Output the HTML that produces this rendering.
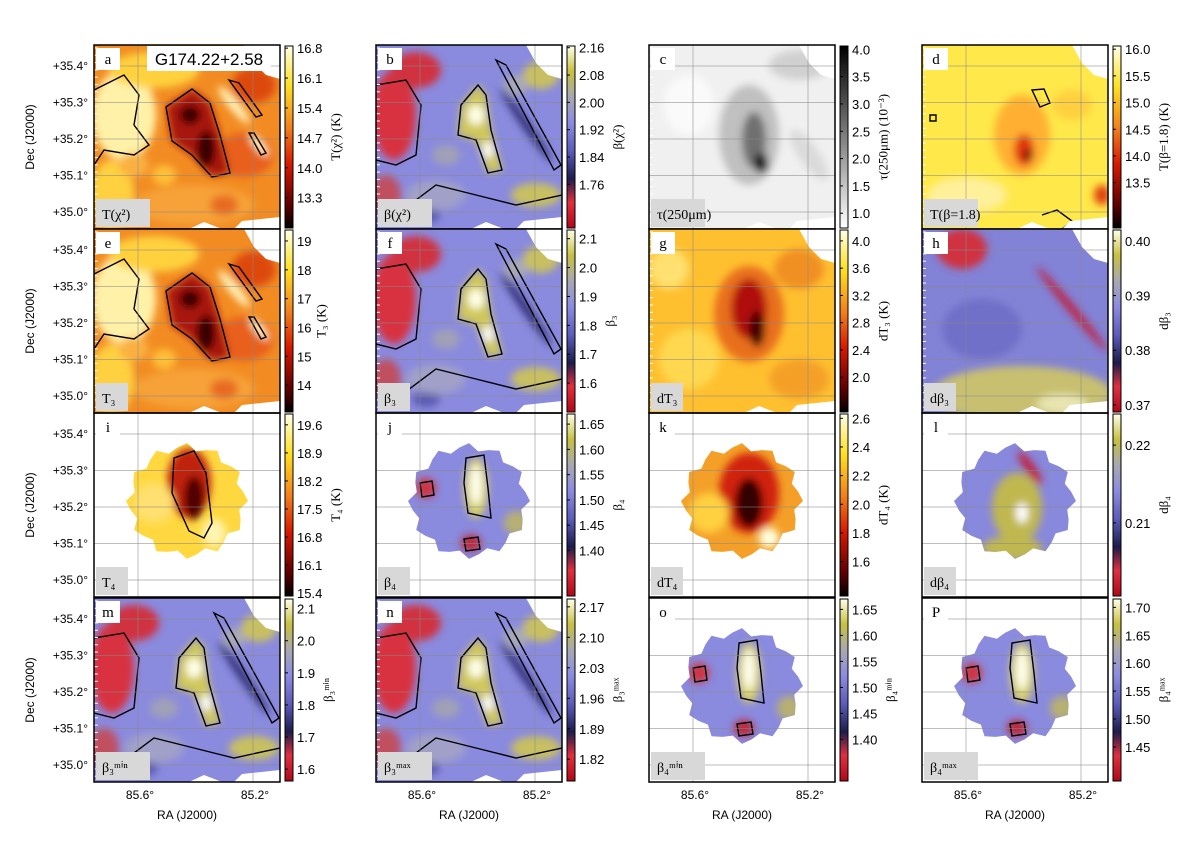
<!DOCTYPE html>
<html><head><meta charset="utf-8"><style>
html,body{margin:0;padding:0;background:#fff;}
svg{display:block;font-family:"Liberation Sans",sans-serif;}
.serif{font-family:"Liberation Serif",serif;}
</style></head><body>
<svg id="fig" width="1200" height="842" viewBox="0 0 1200 842" xmlns="http://www.w3.org/2000/svg">
<defs>
<filter id="blur" x="-20%" y="-20%" width="140%" height="140%"><feGaussianBlur stdDeviation="4"/></filter>
<linearGradient id="cm-hot" x1="0" y1="1" x2="0" y2="0">
<stop offset="0" stop-color="#000000"/><stop offset="0.12" stop-color="#5a0000"/><stop offset="0.35" stop-color="#d81800"/><stop offset="0.55" stop-color="#f2801c"/><stop offset="0.78" stop-color="#ffe020"/><stop offset="1" stop-color="#ffffe8"/></linearGradient>
<linearGradient id="cm-beta" x1="0" y1="1" x2="0" y2="0">
<stop offset="0" stop-color="#b00818"/><stop offset="0.14" stop-color="#e03040"/><stop offset="0.27" stop-color="#1c1c4c"/><stop offset="0.42" stop-color="#5a5ab8"/><stop offset="0.58" stop-color="#8c8ce2"/><stop offset="0.72" stop-color="#a8a8b0"/><stop offset="0.86" stop-color="#c8c040"/><stop offset="1" stop-color="#ffffe8"/></linearGradient>
<linearGradient id="cm-gray" x1="0" y1="1" x2="0" y2="0">
<stop offset="0" stop-color="#ffffff"/><stop offset="1" stop-color="#000000"/></linearGradient>
</defs>
<text transform="translate(34,137) rotate(-90)" text-anchor="middle" font-size="12">Dec (J2000)</text>
<text transform="translate(34,321) rotate(-90)" text-anchor="middle" font-size="12">Dec (J2000)</text>
<text transform="translate(34,505) rotate(-90)" text-anchor="middle" font-size="12">Dec (J2000)</text>
<text transform="translate(34,690) rotate(-90)" text-anchor="middle" font-size="12">Dec (J2000)</text>
</svg>
<script>
// ---- colorbar data ----
const cbTicksA=[13.3,14.0,14.7,15.4,16.1,16.8], cbRangeA=[12.59,16.85];
const cbTicksB=[1.76,1.84,1.92,2.00,2.08,2.16], cbRangeB=[1.632,2.165];
const cbTicksC=[1.0,1.5,2.0,2.5,3.0,3.5,4.0], cbRangeC=[0.73,4.06];
const cbTicksD=[13.5,14.0,14.5,15.0,15.5,16.0], cbRangeD=[12.65,16.06];
const cbTicksE=[14,15,16,17,18,19], cbRangeE=[13.07,19.38];
const cbTicksF=[1.6,1.7,1.8,1.9,2.0,2.1], cbRangeF=[1.50,2.13];
const cbTicksG=[2.0,2.4,2.8,3.2,3.6,4.0], cbRangeG=[1.49,4.16];
const cbTicksH=[0.37,0.38,0.39,0.40], cbRangeH=[0.3687,0.402];
const cbTicksI=[15.4,16.1,16.8,17.5,18.2,18.9,19.6], cbRangeI=[15.33,19.87];
const cbTicksJ=[1.40,1.45,1.50,1.55,1.60,1.65], cbRangeJ=[1.31,1.67];
const cbTicksK=[1.6,1.8,2.0,2.2,2.4,2.6], cbRangeK=[1.36,2.63];
const cbTicksL=[0.21,0.22], cbRangeL=[0.2006,0.224];
const cbTicksM=[1.6,1.7,1.8,1.9,2.0,2.1], cbRangeM=[1.563,2.13];
const cbTicksN=[1.82,1.89,1.96,2.03,2.10,2.17], cbRangeN=[1.77,2.188];
const cbTicksO=[1.40,1.45,1.50,1.55,1.60,1.65], cbRangeO=[1.32,1.67];
const cbTicksP=[1.45,1.50,1.55,1.60,1.65,1.70], cbRangeP=[1.389,1.715];
const decTicks=["+35.4°","+35.3°","+35.2°","+35.1°","+35.0°"];
const raTicks=["85.6°","85.2°"];

const NS="http://www.w3.org/2000/svg";
const fig=document.getElementById('fig');
const colX=[94,376,649,922], rowY=[45,229,413,598], PW=186, PH=184;
function el(tag,parent){const e=document.createElementNS(NS,tag);parent.appendChild(e);return e;}

const panels=[
 {id:'a',c:0,r:0,cm:'hot',ticks:cbTicksA,range:cbRangeA,lab:'T(χ²)',cb:'T(χ²) (K)',fmt:1,kind:'T',size:'L'},
 {id:'b',c:1,r:0,cm:'beta',ticks:cbTicksB,range:cbRangeB,lab:'β(χ²)',cb:'β(χ²)',fmt:2,kind:'B',size:'L'},
 {id:'c',c:2,r:0,cm:'gray',ticks:cbTicksC,range:cbRangeC,lab:'τ(250μm)',cb:'τ(250μm) (10⁻³)',fmt:1,kind:'G',size:'L'},
 {id:'d',c:3,r:0,cm:'hot',ticks:cbTicksD,range:cbRangeD,lab:'T(β=1.8)',cb:'T(β=1.8) (K)',fmt:1,kind:'D',size:'L'},
 {id:'e',c:0,r:1,cm:'hot',ticks:cbTicksE,range:cbRangeE,lab:'T₃',cb:'T₃ (K)',fmt:0,kind:'T',size:'L'},
 {id:'f',c:1,r:1,cm:'beta',ticks:cbTicksF,range:cbRangeF,lab:'β₃',cb:'β₃',fmt:1,kind:'B',size:'L'},
 {id:'g',c:2,r:1,cm:'hot',ticks:cbTicksG,range:cbRangeG,lab:'dT₃',cb:'dT₃ (K)',fmt:1,kind:'DT',size:'L'},
 {id:'h',c:3,r:1,cm:'beta',ticks:cbTicksH,range:cbRangeH,lab:'dβ₃',cb:'dβ₃',fmt:2,kind:'H',size:'L'},
 {id:'i',c:0,r:2,cm:'hot',ticks:cbTicksI,range:cbRangeI,lab:'T₄',cb:'T₄ (K)',fmt:1,kind:'ST',size:'S'},
 {id:'j',c:1,r:2,cm:'beta',ticks:cbTicksJ,range:cbRangeJ,lab:'β₄',cb:'β₄',fmt:2,kind:'SB',size:'S'},
 {id:'k',c:2,r:2,cm:'hot',ticks:cbTicksK,range:cbRangeK,lab:'dT₄',cb:'dT₄ (K)',fmt:1,kind:'SK',size:'S'},
 {id:'l',c:3,r:2,cm:'beta',ticks:cbTicksL,range:cbRangeL,lab:'dβ₄',cb:'dβ₄',fmt:2,kind:'SL',size:'S'},
 {id:'m',c:0,r:3,cm:'beta',ticks:cbTicksM,range:cbRangeM,lab:'β₃ᵐⁱⁿ',cb:'β₃ᵐⁱⁿ',fmt:1,kind:'B',size:'L'},
 {id:'n',c:1,r:3,cm:'beta',ticks:cbTicksN,range:cbRangeN,lab:'β₃ᵐᵃˣ',cb:'β₃ᵐᵃˣ',fmt:2,kind:'B',size:'L'},
 {id:'o',c:2,r:3,cm:'beta',ticks:cbTicksO,range:cbRangeO,lab:'β₄ᵐⁱⁿ',cb:'β₄ᵐⁱⁿ',fmt:2,kind:'SB',size:'S'},
 {id:'P',c:3,r:3,cm:'beta',ticks:cbTicksP,range:cbRangeP,lab:'β₄ᵐᵃˣ',cb:'β₄ᵐᵃˣ',fmt:2,kind:'SB',size:'S'}
];

const kinds={
 T:{base:'#f28c22',blobs:[['e',30,70,32,45,'#fff2a8'],['e',60,25,45,18,'#ffd23c'],['e',18,150,22,35,'#ffd040'],['e',150,110,30,22,'#e8601a'],['e',160,40,22,18,'#dd4a10'],['e',100,160,60,20,'#f6a238'],['e',40,120,15,12,'#f9b040'],['e',130,160,14,10,'#e86a20'],['e',70,130,12,10,'#ffc038'],['p','72,62 98,44 116,58 126,90 136,128 118,132 98,110 78,96','#a81410'],['e',96,70,10,9,'#300000'],['e',112,104,9,18,'#300000'],['e',140,60,5,24,'#fff6c0',-40],['e',165,100,4,14,'#fff6c0',-40]],
   cont:['M72,62 L98,44 L116,58 L126,90 L136,128 L118,132 L98,110 L78,96 Z','M135,35 L145,38 L168,70 L162,72 Z','M155,88 L160,88 L172,108 L167,110 Z','M0,45 L10,40 L30,30 L45,50 L40,80 L55,100 L40,110 L10,105 L0,120']},
 B:{base:'#8a8ade',blobs:[['e',18,70,22,45,'#d83040'],['e',40,25,25,18,'#d03040'],['e',10,150,15,20,'#c05060'],['e',70,110,14,10,'#a0a0b8'],['e',140,40,12,10,'#a8a8b8'],['e',50,170,14,8,'#5a5ab0'],['p','85,60 102,40 110,50 115,85 126,125 112,128 100,95 82,90','#d0c858'],['e',100,70,8,10,'#ffffe8'],['e',112,105,5,8,'#ffffff'],['e',150,80,4,45,'#2a2a70',-35],['e',160,150,25,12,'#c8c060'],['e',60,150,30,15,'#a0a0c8'],['e',165,30,18,14,'#c8c060']],
   cont:['M85,60 L102,40 L110,50 L115,85 L126,125 L112,128 L100,95 L82,90 Z','M120,15 L130,20 L185,120 L178,125 Z','M0,40 L30,35 L45,60 L40,110 L20,120 L0,115','M20,170 L60,140 L100,150 L140,160 L186,150']},
 G:{base:'#f0f0f0',blobs:[['e',100,90,30,50,'#c0c0c0'],['e',105,95,12,28,'#707070'],['e',112,118,7,10,'#101010'],['e',150,20,30,15,'#d0d0d0'],['e',40,60,25,30,'#fafafa'],['e',160,110,10,30,'#dadada',-35]],cont:[]},
 D:{base:'#ffe84a',blobs:[['e',100,90,28,40,'#ffb030'],['e',102,105,10,16,'#e03810'],['e',106,110,4,6,'#500000'],['e',45,150,40,18,'#fff09a'],['e',150,60,20,15,'#ffd040'],['e',180,150,8,10,'#e04010']],
   cont:['M110,45 L122,44 L128,58 L118,62 Z','M8,70 L14,70 L14,76 L8,76 Z','M120,170 L135,165 L150,176 L140,184']},
 DT:{base:'#ffc030',blobs:[['e',100,85,35,48,'#e8701a'],['e',100,80,18,30,'#b01010'],['e',108,100,8,18,'#400000'],['e',40,130,30,30,'#ffd850'],['e',150,40,25,20,'#f09020'],['e',20,40,20,20,'#ffe070'],['e',150,150,30,20,'#f4a028']],cont:[]},
 H:{base:'#8282d6',blobs:[['e',100,165,90,28,'#c8c070'],['e',40,20,25,20,'#d03040'],['e',150,80,4,55,'#c02040',-40],['e',60,100,40,30,'#7070c8'],['e',140,175,25,10,'#e8e4b0']],cont:[]},
 ST:{base:'#ffd840',blobs:[['e',95,70,22,35,'#c02010'],['e',100,85,10,22,'#500000'],['e',60,90,20,20,'#ffe070'],['e',120,120,12,14,'#fff4b0']],cont:['M80,45 L100,38 L112,60 L118,110 L110,125 L95,118 L78,80 Z']},
 SB:{base:'#8a8ade',blobs:[['e',100,75,12,30,'#d8d060'],['e',100,72,6,20,'#fffff0'],['e',50,75,10,10,'#d03040'],['e',95,130,10,8,'#c02030'],['e',140,110,12,12,'#b8b070']],cont:['M90,45 L108,42 L112,75 L115,105 L92,100 L88,70 Z','M44,70 L56,68 L58,82 L46,84 Z','M88,126 L102,124 L104,136 L90,138 Z']},
 SK:{base:'#f4a028',blobs:[['e',100,80,30,40,'#d02010'],['e',100,90,14,25,'#300000'],['e',120,125,10,10,'#ffffe0'],['e',60,100,20,20,'#ffd040']],cont:[]},
 SL:{base:'#8888dc',blobs:[['e',95,95,25,35,'#c0b850'],['e',100,100,6,10,'#ffffff'],['e',108,55,5,20,'#c02040',-35],['e',90,135,30,12,'#c0b850']],cont:[]}
};

function footprint(size){
 if(size==='L') return null;
 const pts=[];const n=36;
 for(let k=0;k<n;k++){const a=k/n*2*Math.PI;const rr=56+((k%3===0)?5:(k%3===1?-3:1));pts.push((93+rr*Math.cos(a)).toFixed(1)+','+(88+rr*0.95*Math.sin(a)).toFixed(1));}
 return pts.join(' ');
}

panels.forEach(p=>{
 const x0=colX[p.c], y0=rowY[p.r];
 const g=el('g',fig);
 
 
 g.setAttribute('transform','translate('+x0+','+y0+')');
 const cp=el('clipPath',g); cp.setAttribute('id','clip-'+p.id);
 const cr=el('rect',cp); cr.setAttribute('width',PW); cr.setAttribute('height',PH);
 const K=kinds[p.kind];
 const mapG=el('g',g); mapG.setAttribute('clip-path','url(#clip-'+p.id+')');
 
 
 const fp=footprint(p.size);
 let inner=mapG;
 if(fp){
  const cp2=el('clipPath',g); cp2.setAttribute('id','fp-'+p.id);
  const pl=el('polygon',cp2); pl.setAttribute('points',fp);
  inner=el('g',mapG); inner.setAttribute('clip-path','url(#fp-'+p.id+')');
 }
 const base=el('rect',inner); base.setAttribute('width',PW); base.setAttribute('height',PH); base.setAttribute('fill',K.base);
 
 
 const bl=el('g',inner); bl.setAttribute('filter','url(#blur)');
 K.blobs.forEach(b=>{
  let s;
  if(b[0]==='e'){s=el('ellipse',bl);s.setAttribute('cx',b[1]);s.setAttribute('cy',b[2]);s.setAttribute('rx',b[3]);s.setAttribute('ry',b[4]);s.setAttribute('fill',b[5]);if(b[6])s.setAttribute('transform','rotate('+b[6]+' '+b[1]+' '+b[2]+')');}
  else {s=el('polygon',bl);s.setAttribute('points',b[1]);s.setAttribute('fill',b[2]);}
  
  
 });
 K.cont.forEach(d=>{const c=el('path',inner);c.setAttribute('d',d);c.setAttribute('fill','none');c.setAttribute('stroke','#000');c.setAttribute('stroke-width','1.4');
  
  });
 if(p.size==='L'){
  ['150,0 186,0 186,34 172,30 160,18','140,184 148,176 186,172 186,184','95,184 110,177 128,184'].forEach(pt=>{
   const m=el('polygon',mapG);m.setAttribute('points',pt);m.setAttribute('fill','#fff');
   
   });
 }
 for(let k=0;k<5;k++){const ly=21+k*36.5;const l=el('line',g);l.setAttribute('x1',0);l.setAttribute('x2',PW);l.setAttribute('y1',ly);l.setAttribute('y2',ly);l.setAttribute('stroke','#888');l.setAttribute('stroke-opacity','0.55');
  
  }
 [44,159].forEach(lx=>{const l=el('line',g);l.setAttribute('x1',lx);l.setAttribute('x2',lx);l.setAttribute('y1',0);l.setAttribute('y2',PH);l.setAttribute('stroke','#888');l.setAttribute('stroke-opacity','0.55');
  
  });
 for(let k=0;k<25;k++){const ty=3+k*7.3;const t=el('line',g);t.setAttribute('x1',0);t.setAttribute('x2',4);t.setAttribute('y1',ty);t.setAttribute('y2',ty);t.setAttribute('stroke','#fff');
  
  }
 const fr=el('rect',g);fr.setAttribute('width',PW);fr.setAttribute('height',PH);fr.setAttribute('fill','none');fr.setAttribute('stroke','#000');fr.setAttribute('stroke-width','1.5');
 
 
 const lb=el('rect',g);lb.setAttribute('x',2);lb.setAttribute('y',3);lb.setAttribute('width',24);lb.setAttribute('height',22);lb.setAttribute('fill','#fff');
 
 
 const lt=el('text',g);lt.setAttribute('x',14);lt.setAttribute('y',19);lt.setAttribute('text-anchor','middle');lt.setAttribute('font-size','15');lt.setAttribute('class','serif');lt.textContent=p.id;
 
 
 const gb=el('rect',g);gb.setAttribute('x',2);gb.setAttribute('y',PH-30);gb.setAttribute('width',p.lab.length>4?54:32);gb.setAttribute('height',28);gb.setAttribute('fill','#d8d8d8');
 
 
 const gt=el('text',g);gt.setAttribute('x',8);gt.setAttribute('y',PH-10);gt.setAttribute('font-size','14');gt.setAttribute('class','serif');gt.textContent=p.lab;
 
 
 const cb=el('g',fig);
 
 
 const cx=x0+PW+5;
 const cbr=el('rect',cb);cbr.setAttribute('x',cx);cbr.setAttribute('y',y0+1);cbr.setAttribute('width',8);cbr.setAttribute('height',PH-2);cbr.setAttribute('fill','url(#cm-'+p.cm+')');cbr.setAttribute('stroke','#000');
 
 
 const yv=v=>y0+1+(PH-2)*(p.range[1]-v)/(p.range[1]-p.range[0]);
 let maxW=0;
 p.ticks.forEach(v=>{
  const ty=yv(v);
  const tk=el('line',cb);tk.setAttribute('x1',cx);tk.setAttribute('x2',cx+3);tk.setAttribute('y1',ty);tk.setAttribute('y2',ty);tk.setAttribute('stroke','#000');
  
  
  const s=v.toFixed(p.fmt);
  maxW=Math.max(maxW,s.length*7.2);
  const tt=el('text',cb);tt.setAttribute('x',cx+12);tt.setAttribute('y',ty+5);tt.setAttribute('font-size','13');tt.textContent=s;
  
  
 });
 const ct=el('text',cb);ct.setAttribute('transform','translate('+(cx+12+maxW+14)+','+(y0+PH/2)+') rotate(-90)');ct.setAttribute('text-anchor','middle');ct.setAttribute('font-size','13');ct.setAttribute('class','serif');ct.textContent=p.cb;
 
 
 if(p.c===0){decTicks.forEach((s,k)=>{const t=el('text',fig);t.setAttribute('x',x0-6);t.setAttribute('y',y0+21+k*36.5+4);t.setAttribute('text-anchor','end');t.setAttribute('font-size','12');t.textContent=s;
  
  });}
 if(p.r===3){raTicks.forEach((s,k)=>{const t=el('text',fig);t.setAttribute('x',x0+[46,161][k]);t.setAttribute('y',y0+PH+17);t.setAttribute('text-anchor','middle');t.setAttribute('font-size','12');t.textContent=s;
  
  });
  const xt=el('text',fig);xt.setAttribute('x',x0+PW/2);xt.setAttribute('y',y0+PH+37);xt.setAttribute('text-anchor','middle');xt.setAttribute('font-size','12');xt.textContent='RA (J2000)';
  
  }
});
const sb=el('rect',fig);sb.setAttribute('x',147);sb.setAttribute('y',46);sb.setAttribute('width',124);sb.setAttribute('height',25);sb.setAttribute('fill','#fff');


const st=el('text',fig);st.setAttribute('x',209);st.setAttribute('y',65);st.setAttribute('text-anchor','middle');st.setAttribute('font-size','17');st.textContent='G174.22+2.58';


</script>
</body></html>
